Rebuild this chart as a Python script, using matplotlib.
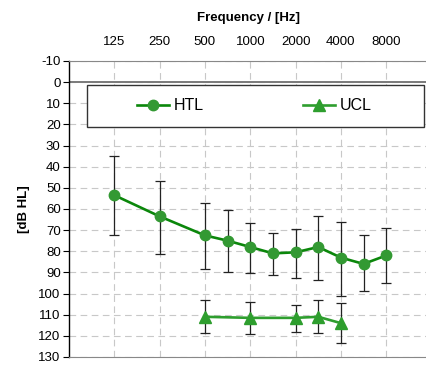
"""Audiogram: hearing threshold (HTL) and uncomfortable level (UCL)."""
import numpy as np
import matplotlib
matplotlib.use("Agg")
import matplotlib.pyplot as plt
from matplotlib.patches import Rectangle

# --- data
octave_freqs = [125, 250, 500, 1000, 2000, 4000, 8000]
octave_labels = ["125", "250", "500", "1000", "2000", "4000", "8000"]

htl_freqs = [125, 250, 500, 750, 1000, 1500, 2000, 3000, 4000, 6000, 8000]
htl_mean = [53.5, 63.5, 72.5, 75, 78, 81, 80.5, 78, 83, 86, 82]
htl_upper = [35, 47, 57, 60.5, 66.5, 71.5, 69.5, 63.5, 66, 72.5, 69]
htl_lower = [72.5, 81.5, 88.5, 90, 90.5, 91, 92.5, 93.5, 101, 99, 95]

ucl_freqs = [500, 1000, 2000, 3000, 4000]
ucl_mean = [111, 111.5, 111.5, 111, 114]
ucl_upper = [103, 104, 105.5, 103, 104.5]
ucl_lower = [118.5, 119, 118, 118.5, 123.5]

y_ticks = list(range(-10, 131, 10))

plt.rcParams["font.family"] = ["Liberation Sans", "DejaVu Sans"]


def octave_pos(freqs):
    # intermediate frequencies sit halfway between octave ticks
    return np.interp(freqs, octave_freqs, np.arange(len(octave_freqs)))


fig = plt.figure(figsize=(4.27, 3.65), dpi=100)
ax = fig.add_axes([0.1616, 0.022, 0.8384, 0.811])

x_htl = octave_pos(htl_freqs)
x_ucl = octave_pos(ucl_freqs)

# error bars (behind the lines)
for xs, m, up, lo in [(x_htl, htl_mean, htl_upper, htl_lower),
                      (x_ucl, ucl_mean, ucl_upper, ucl_lower)]:
    m = np.array(m)
    err = [m - np.array(up), np.array(lo) - m]
    ax.errorbar(xs, m, yerr=err, fmt="none", ecolor="#222222",
                elinewidth=0.9, capsize=3.5, capthick=0.9, zorder=3)

ax.plot(x_htl, htl_mean, color="#0b870b", linewidth=1.9, marker="o",
        markersize=7.5, markerfacecolor="#339933", markeredgecolor="#339933",
        label="HTL", zorder=4)
ax.plot(x_ucl, ucl_mean, color="#2e9e2e", linewidth=1.9, marker="^",
        markersize=8, markerfacecolor="#2e9e2e", markeredgecolor="#2e9e2e",
        label="UCL", zorder=4)

# axes
ax.set_xlim(-1, 6.9)
ax.set_ylim(130, -10)
ax.set_yticks(y_ticks)
ax.set_yticklabels([str(v) for v in y_ticks], fontsize=9.5)
ax.set_xticks(octave_pos(octave_freqs))
ax.set_xticklabels(octave_labels, fontsize=9.5)
ax.xaxis.tick_top()
ax.xaxis.set_label_position("top")
ax.tick_params(axis="x", length=0, pad=9)
ax.tick_params(axis="y", length=4, width=0.8, pad=2, direction="out")
ax.set_xlabel("Frequency / [Hz]", fontsize=9.5, fontweight="bold", labelpad=11)
ax.set_ylabel("[dB HL]", fontsize=9.5, fontweight="bold", labelpad=6)

ax.grid(True, color="#c8c8c8", linestyle=(0, (6, 4)), linewidth=0.8)
ax.set_axisbelow(True)
ax.axhline(0, color="#7a7a7a", linewidth=1.4, zorder=2)

ax.spines["right"].set_visible(False)
ax.spines["top"].set_color("#888888")
ax.spines["bottom"].set_color("#888888")
ax.spines["left"].set_color("black")
ax.spines["left"].set_linewidth(1.0)

# legend box
ax.add_patch(Rectangle((0.0503, 0.777), 0.9413, 0.142, transform=ax.transAxes,
                       facecolor="white", edgecolor="#333333", linewidth=1.0,
                       zorder=5))
ax.legend(loc="center", bbox_to_anchor=(0.518, 0.848), ncol=2, frameon=False,
          fontsize=11.5, handlelength=2.0, handletextpad=0.3,
          columnspacing=6.2).set_zorder(6)

fig.savefig("out.png", dpi=100)
